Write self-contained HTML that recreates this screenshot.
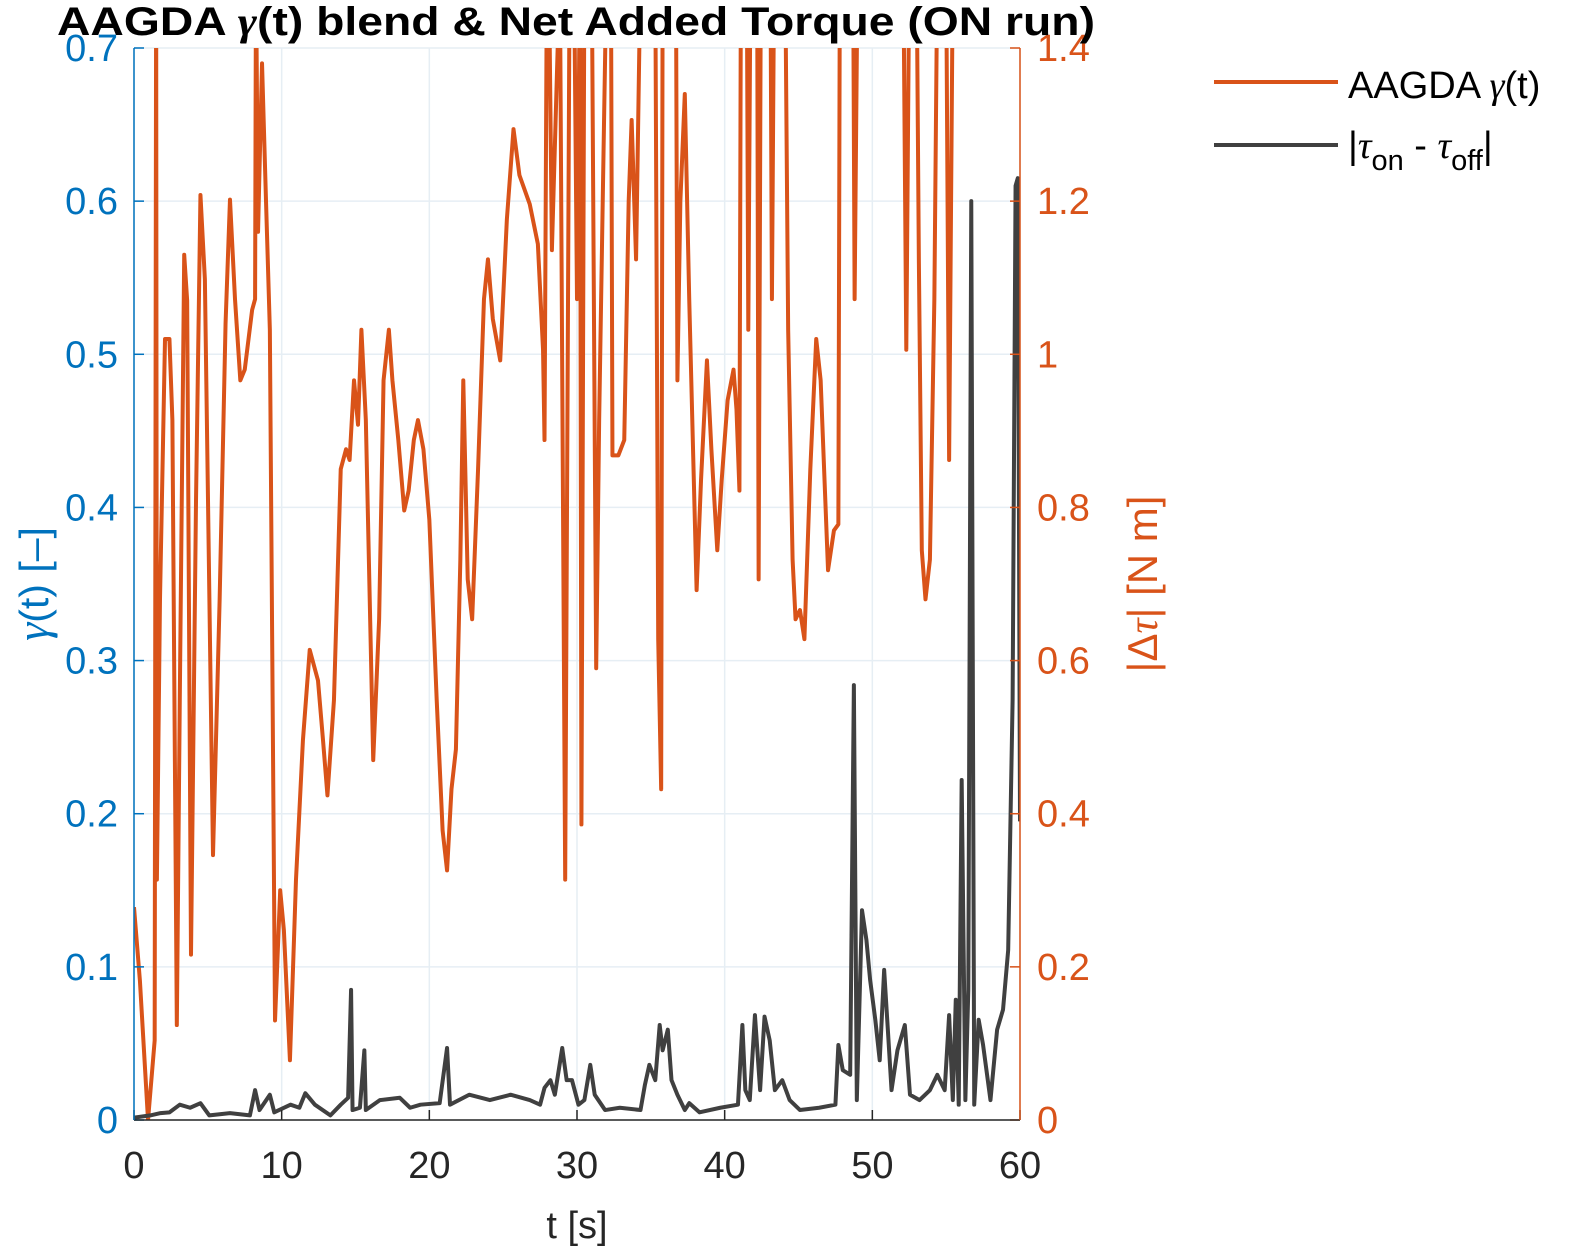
<!DOCTYPE html>
<html><head><meta charset="utf-8"><style>
body{margin:0;background:#fff;}
svg{display:block;font-family:"Liberation Sans",sans-serif;}
</style></head><body>
<svg id="chart" width="1570" height="1253" viewBox="0 0 1570 1253">
<defs><clipPath id="pc"><rect x="134" y="48" width="886" height="1072"/></clipPath></defs>
<rect x="134" y="48" width="886" height="1072" fill="#fff"/>
<g id="grid"></g>
<g id="series" clip-path="url(#pc)"></g>
<g id="axes"></g>
<text x="57" y="35" textLength="1038" lengthAdjust="spacingAndGlyphs" font-size="40" font-weight="bold">AAGDA <tspan font-family="Liberation Serif" font-style="italic">γ</tspan>(t) blend &amp; Net Added Torque (ON run)</text>
<text x="577" y="1238" text-anchor="middle" font-size="38" fill="#262626">t [s]</text>
<text transform="translate(48,584) rotate(-90)" text-anchor="middle" font-size="41" fill="#0072BD"><tspan font-family="Liberation Serif" font-style="italic" font-size="46">γ</tspan>(t) [–]</text>
<text transform="translate(1157,584) rotate(-90)" text-anchor="middle" font-size="42" fill="#D95319">|Δ<tspan font-family="Liberation Serif" font-style="italic">τ</tspan>| [N m]</text>
<g>
<g><line x1="1214" y1="82" x2="1338" y2="82" stroke="#D95319" stroke-width="4"/><text x="1348" y="98" font-size="38">AAGDA <tspan font-family="Liberation Serif" font-style="italic">γ</tspan>(t)</text></g>
<g><line x1="1214" y1="145" x2="1338" y2="145" stroke="#404040" stroke-width="4"/><text x="1348" y="158" font-size="38">|<tspan font-family="Liberation Serif" font-style="italic">τ</tspan><tspan font-size="29" dy="12">on</tspan><tspan dy="-12"> - </tspan><tspan font-family="Liberation Serif" font-style="italic">τ</tspan><tspan font-size="29" dy="12">off</tspan><tspan dy="-12">|</tspan></text></g>
</g>
</svg>
<script>
const gammaT=[0,0.4,0.95,1.4,1.5,1.55,1.76,2.1,2.4,2.6,2.9,3.1,3.4,3.6,3.86,4.2,4.5,4.8,5.35,5.8,6.2,6.5,6.84,7.2,7.5,8.0,8.2,8.26,8.4,8.67,8.94,9.2,9.55,9.9,10.15,10.56,10.97,11.44,11.9,12.46,12.8,13.1,13.54,14.0,14.36,14.6,14.9,15.17,15.4,15.7,16.2,16.6,16.9,17.26,17.5,17.9,18.3,18.6,18.95,19.23,19.6,20.0,20.5,20.9,21.2,21.5,21.8,22.1,22.3,22.6,22.9,23.3,23.7,23.97,24.3,24.8,25.25,25.7,26.1,26.8,27.35,27.7,27.8,27.96,28.1,28.3,28.84,29.2,29.5,29.8,30.0,30.2,30.3,30.5,31.0,31.1,31.3,31.5,31.8,32.0,32.3,32.4,32.8,33.2,33.5,33.7,34.0,34.3,35.3,35.5,35.7,35.8,36.7,36.8,37.0,37.3,37.6,38.1,38.4,38.8,39.1,39.5,39.8,40.2,40.6,40.8,41.0,41.1,41.5,41.6,41.75,42.2,42.3,42.45,43.1,43.2,43.35,44.1,44.3,44.6,44.8,45.1,45.4,45.8,46.2,46.5,47.0,47.4,47.7,47.8,48.7,48.8,49.0,52.1,52.3,52.5,53.0,53.15,53.35,53.6,53.9,54.2,54.4,55.0,55.2,55.45,60];
const gammaV=[0.139,0.091,0,0.052,0.75,0.157,0.34,0.51,0.51,0.457,0.062,0.274,0.565,0.535,0.108,0.405,0.604,0.549,0.173,0.34,0.52,0.601,0.536,0.483,0.49,0.529,0.536,0.75,0.58,0.69,0.60,0.516,0.065,0.15,0.124,0.039,0.157,0.248,0.307,0.287,0.248,0.212,0.274,0.425,0.438,0.431,0.483,0.454,0.516,0.457,0.235,0.327,0.483,0.516,0.483,0.444,0.398,0.411,0.444,0.457,0.438,0.392,0.274,0.189,0.163,0.216,0.242,0.366,0.483,0.353,0.327,0.425,0.536,0.562,0.523,0.496,0.588,0.647,0.617,0.598,0.572,0.503,0.444,0.75,0.75,0.568,0.75,0.157,0.75,0.75,0.536,0.75,0.193,0.75,0.75,0.6,0.295,0.457,0.634,0.75,0.75,0.434,0.434,0.444,0.6,0.653,0.562,0.75,0.75,0.314,0.216,0.75,0.75,0.483,0.6,0.67,0.536,0.346,0.418,0.496,0.438,0.372,0.418,0.47,0.49,0.464,0.411,0.75,0.75,0.516,0.75,0.75,0.353,0.75,0.75,0.536,0.75,0.75,0.516,0.366,0.327,0.333,0.314,0.425,0.51,0.483,0.359,0.385,0.389,0.75,0.75,0.536,0.75,0.75,0.503,0.75,0.75,0.562,0.372,0.34,0.366,0.536,0.75,0.75,0.431,0.75,0.75];
const tauT=[0,1.1,1.8,2.4,3.1,3.8,4.5,5.1,6.5,7.85,8.2,8.5,9.2,9.5,10.6,11.2,11.6,12.25,13.3,14.0,14.5,14.7,14.8,15.3,15.6,15.7,16.65,18.0,18.7,19.4,20.7,21.2,21.4,22.7,24.1,25.5,26.8,27.5,27.8,28.2,28.5,29.0,29.3,29.66,30.1,30.5,30.9,31.2,31.9,32.9,34.3,34.6,34.9,35.3,35.6,35.8,36.15,36.4,36.8,37.3,37.6,38.3,39.7,40.9,41.2,41.4,41.7,42.05,42.4,42.7,43.05,43.4,43.9,44.4,45.1,46.4,47.5,47.7,48.0,48.5,48.75,48.95,49.3,49.6,49.85,50.2,50.5,50.8,51.05,51.3,51.7,52.2,52.55,53.2,53.9,54.4,54.9,55.2,55.45,55.65,55.85,56.05,56.3,56.5,56.7,56.9,57.2,57.5,58.0,58.45,58.85,59.2,59.5,59.7,59.85,60];
const tauV=[0.003,0.006,0.009,0.01,0.02,0.016,0.022,0.006,0.009,0.006,0.039,0.013,0.033,0.01,0.02,0.016,0.035,0.02,0.006,0.02,0.029,0.17,0.013,0.016,0.091,0.013,0.026,0.029,0.016,0.02,0.022,0.094,0.02,0.033,0.026,0.033,0.026,0.02,0.042,0.052,0.033,0.094,0.052,0.052,0.02,0.026,0.072,0.033,0.013,0.016,0.013,0.046,0.072,0.052,0.124,0.091,0.118,0.052,0.033,0.013,0.022,0.01,0.016,0.02,0.124,0.039,0.026,0.137,0.039,0.135,0.104,0.039,0.052,0.026,0.013,0.016,0.02,0.098,0.065,0.059,0.568,0.026,0.274,0.235,0.183,0.131,0.078,0.196,0.118,0.039,0.091,0.124,0.033,0.026,0.039,0.059,0.039,0.137,0.026,0.157,0.02,0.444,0.026,0.17,1.2,0.02,0.131,0.098,0.026,0.118,0.144,0.222,0.549,1.22,1.23,0.39];
const xTicks=[0,10,20,30,40,50,60];
const leftTicks=[0,0.1,0.2,0.3,0.4,0.5,0.6,0.7];
const rightTicks=["0","0.2","0.4","0.6","0.8","1","1.2","1.4"];
const X0=134,X1=1020,Y0=1120,Y1=48;
const xs=t=>X0+t/60*(X1-X0);
const yl=v=>Y0-v/0.7*(Y0-Y1);
const yr=v=>Y0-v/1.4*(Y0-Y1);
const NS="http://www.w3.org/2000/svg";
function mk(tag,attrs,parent){const e=document.createElementNS(NS,tag);for(const k in attrs)e.setAttribute(k,attrs[k]);parent.appendChild(e);return e;}
const grid=document.getElementById('grid'),axes=document.getElementById('axes'),series=document.getElementById('series');
xTicks.forEach(t=>{const l=mk('line',{x1:xs(t),x2:xs(t),y1:Y1,y2:Y0,stroke:'#e6eef4','stroke-width':1.5},grid);


const k=mk('line',{x1:xs(t),x2:xs(t),y1:Y0,y2:Y0-10,stroke:'#262626','stroke-width':1.5},axes);


const tx=mk('text',{x:xs(t),y:1178,'text-anchor':'middle','font-size':38,fill:'#262626'},axes);tx.textContent=t;

});
leftTicks.forEach((v,i)=>{const l=mk('line',{x1:X0,x2:X1,y1:yl(v),y2:yl(v),stroke:'#e6eef4','stroke-width':1.5},grid);


const k=mk('line',{x1:X0,x2:X0+10,y1:yl(v),y2:yl(v),stroke:'#0072BD','stroke-width':1.5},axes);


const tx=mk('text',{x:118,y:yl(v)+13,'text-anchor':'end','font-size':38,fill:'#0072BD'},axes);tx.textContent=String(v);


const k2=mk('line',{x1:X1-10,x2:X1,y1:yl(v),y2:yl(v),stroke:'#D95319','stroke-width':1.5},axes);


const t2=mk('text',{x:1037,y:yl(v)+13,'font-size':38,fill:'#D95319'},axes);t2.textContent=rightTicks[i];

});
const ax1=mk('line',{x1:X0,x2:X1,y1:Y0,y2:Y0,stroke:'#262626','stroke-width':1.5},axes);


const ax2=mk('line',{x1:X0,x2:X0,y1:Y1,y2:Y0,stroke:'#0072BD','stroke-width':1.5},axes);


const ax3=mk('line',{x1:X1,x2:X1,y1:Y1,y2:Y0,stroke:'#D95319','stroke-width':1.5},axes);


const p1=mk('polyline',{points:gammaT.map((t,i)=>xs(t)+','+yl(gammaV[i])).join(' '),fill:'none',stroke:'#D95319','stroke-width':4,'stroke-linejoin':'round'},series);


const p2=mk('polyline',{points:tauT.map((t,i)=>xs(t)+','+yr(tauV[i])).join(' '),fill:'none',stroke:'#404040','stroke-width':4,'stroke-linejoin':'round'},series);


</script>
</body></html>
